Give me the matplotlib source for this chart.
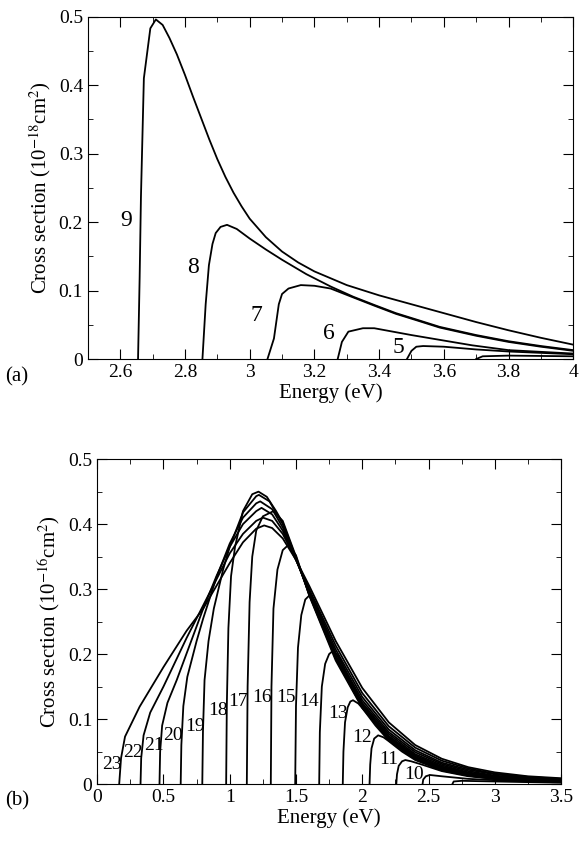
import matplotlib
matplotlib.use("Agg")
import matplotlib.pyplot as plt
from matplotlib.ticker import MultipleLocator

plt.rcParams['font.family'] = ['Liberation Serif', 'DejaVu Serif']
plt.rcParams['mathtext.fontset'] = 'stix'

# panel (a): transitions 9..4, points (energy, cross section)
a_curves = {
    '9': [(2.655, 0), (2.66, 0.12), (2.664, 0.237), (2.673, 0.41), (2.693, 0.483), (2.71, 0.496), (2.731, 0.488),
          (2.752, 0.469), (2.775, 0.445), (2.8, 0.415), (2.825, 0.383), (2.85, 0.352), (2.875, 0.321), (2.9, 0.292),
          (2.925, 0.266), (2.95, 0.243), (2.975, 0.223), (3.0, 0.205), (3.05, 0.178), (3.1, 0.157), (3.15, 0.141),
          (3.2, 0.128), (3.3, 0.108), (3.4, 0.093), (3.5, 0.08), (3.6, 0.067), (3.7, 0.054), (3.8, 0.042),
          (3.9, 0.031), (4.0, 0.021)],
    '8': [(2.854, 0), (2.864, 0.08), (2.874, 0.137), (2.885, 0.168), (2.895, 0.184), (2.91, 0.193), (2.93, 0.196),
          (2.96, 0.19), (3.0, 0.176), (3.05, 0.16), (3.1, 0.145), (3.175, 0.124), (3.25, 0.106), (3.32, 0.091),
          (3.385, 0.079), (3.452, 0.067), (3.52, 0.057), (3.587, 0.047), (3.7, 0.035), (3.8, 0.026), (3.9, 0.019), (4.0, 0.013)],
    '7': [(3.055, 0), (3.075, 0.03), (3.09, 0.08), (3.1, 0.095), (3.12, 0.103), (3.158, 0.108), (3.2, 0.107), (3.25, 0.103),
          (3.32, 0.09), (3.385, 0.078), (3.452, 0.066), (3.52, 0.056), (3.587, 0.046), (3.7, 0.034), (3.8, 0.025), (3.9, 0.018), (4.0, 0.012)],
    '6': [(3.272, 0), (3.285, 0.025), (3.305, 0.04), (3.35, 0.045), (3.385, 0.045), (3.5, 0.035), (3.6, 0.027), (3.688, 0.02),
          (3.8, 0.013), (4.0, 0.008)],
    '5': [(3.486, 0), (3.5, 0.012), (3.515, 0.018), (3.536, 0.019), (3.6, 0.018), (3.7, 0.014), (3.8, 0.011), (4.0, 0.007)],
    '4': [(3.70, 0), (3.72, 0.004), (3.8, 0.005), (4.0, 0.004)],
}
a_labels = {'9': (2.618, 0.203), '8': (2.824, 0.134), '7': (3.02, 0.063), '6': (3.245, 0.038), '5': (3.46, 0.017)}

# panel (b): transitions 23..9
tail_x = [1.5, 1.6, 1.8, 2.0, 2.2, 2.4, 2.6, 2.8, 3.0, 3.25, 3.5]
b_rise = {
    '23': [(0.166, 0), (0.18, 0.04), (0.21, 0.073), (0.32, 0.119), (0.5, 0.18), (0.675, 0.236), (0.8, 0.27), (0.9, 0.305),
           (1.0, 0.34), (1.1, 0.372), (1.2, 0.393), (1.26, 0.398), (1.32, 0.394), (1.4, 0.378)],
    '22': [(0.327, 0), (0.332, 0.04), (0.35, 0.075), (0.4, 0.11), (0.5, 0.15), (0.675, 0.225), (0.8, 0.275), (0.9, 0.315),
           (1.0, 0.355), (1.1, 0.385), (1.2, 0.405), (1.25, 0.41), (1.32, 0.405), (1.4, 0.385)],
    '21': [(0.47, 0), (0.475, 0.05), (0.49, 0.09), (0.53, 0.125), (0.6, 0.16), (0.7, 0.215), (0.8, 0.27), (0.9, 0.32),
           (1.0, 0.365), (1.1, 0.4), (1.2, 0.42), (1.24, 0.425), (1.32, 0.415), (1.4, 0.39)],
    '20': [(0.63, 0), (0.635, 0.06), (0.65, 0.12), (0.68, 0.165), (0.75, 0.22), (0.8, 0.255), (0.9, 0.318), (1.0, 0.37),
           (1.1, 0.41), (1.2, 0.432), (1.23, 0.435), (1.32, 0.423), (1.4, 0.395)],
    '19': [(0.793, 0), (0.798, 0.08), (0.81, 0.16), (0.84, 0.22), (0.88, 0.27), (0.95, 0.33), (1.0, 0.365), (1.1, 0.418),
           (1.2, 0.443), (1.22, 0.445), (1.3, 0.435), (1.4, 0.4)],
    '18': [(0.973, 0), (0.978, 0.12), (0.99, 0.24), (1.01, 0.32), (1.04, 0.365), (1.1, 0.42), (1.17, 0.446), (1.217, 0.45),
           (1.28, 0.442), (1.35, 0.42), (1.4, 0.402)],
    '17': [(1.129, 0), (1.135, 0.15), (1.15, 0.28), (1.17, 0.35), (1.2, 0.39), (1.25, 0.412), (1.33, 0.42), (1.4, 0.405)],
    '16': [(1.31, 0), (1.315, 0.15), (1.33, 0.27), (1.36, 0.33), (1.4, 0.36), (1.443, 0.368)],
}
b_tail = {
    '23': [0.345, 0.305, 0.22, 0.148, 0.095, 0.06, 0.039, 0.026, 0.018, 0.012, 0.009],
    '22': [0.345, 0.3, 0.213, 0.14, 0.089, 0.056, 0.036, 0.024, 0.016, 0.011, 0.008],
    '21': [0.345, 0.297, 0.207, 0.134, 0.084, 0.052, 0.033, 0.022, 0.015, 0.01, 0.007],
    '20': [0.346, 0.295, 0.202, 0.129, 0.08, 0.049, 0.031, 0.02, 0.013, 0.009, 0.006],
    '19': [0.347, 0.293, 0.198, 0.125, 0.077, 0.046, 0.029, 0.018, 0.012, 0.008, 0.006],
    '18': [0.348, 0.292, 0.195, 0.122, 0.074, 0.044, 0.027, 0.017, 0.011, 0.008, 0.005],
    '17': [0.35, 0.291, 0.193, 0.12, 0.072, 0.042, 0.026, 0.016, 0.011, 0.007, 0.005],
    '16': [0.352, 0.29, 0.19, 0.117, 0.07, 0.041, 0.025, 0.015, 0.01, 0.007, 0.005],
}
b_other = {
    '15': [(1.494, 0), (1.5, 0.12), (1.515, 0.21), (1.54, 0.26), (1.57, 0.284), (1.6, 0.29), (1.65, 0.278), (1.7, 0.25),
           (1.8, 0.193), (2.0, 0.118), (2.2, 0.069), (2.4, 0.04), (2.6, 0.024), (2.8, 0.015), (3.0, 0.01), (3.25, 0.006), (3.5, 0.004)],
    '14': [(1.675, 0), (1.68, 0.08), (1.695, 0.15), (1.72, 0.185), (1.75, 0.2), (1.778, 0.205), (1.82, 0.197), (1.9, 0.163),
           (2.0, 0.122), (2.2, 0.068), (2.4, 0.039), (2.6, 0.023), (2.8, 0.014), (3.0, 0.009), (3.25, 0.006), (3.5, 0.004)],
    '13': [(1.853, 0), (1.858, 0.05), (1.87, 0.095), (1.89, 0.118), (1.91, 0.127), (1.93, 0.129), (1.97, 0.124), (2.0, 0.117),
           (2.1, 0.09), (2.2, 0.067), (2.4, 0.038), (2.6, 0.022), (2.8, 0.013), (3.0, 0.008), (3.25, 0.005), (3.5, 0.004)],
    '12': [(2.055, 0), (2.06, 0.03), (2.07, 0.055), (2.09, 0.07), (2.12, 0.075), (2.16, 0.072), (2.2, 0.066), (2.3, 0.05),
           (2.4, 0.037), (2.6, 0.021), (2.8, 0.013), (3.0, 0.008), (3.25, 0.005), (3.5, 0.003)],
    '11': [(2.257, 0), (2.262, 0.015), (2.275, 0.028), (2.3, 0.035), (2.325, 0.037), (2.37, 0.035), (2.45, 0.03), (2.6, 0.02),
           (2.8, 0.012), (3.0, 0.008), (3.25, 0.005), (3.5, 0.003)],
    '10': [(2.455, 0), (2.46, 0.007), (2.48, 0.012), (2.51, 0.014), (2.6, 0.012), (2.8, 0.008), (3.0, 0.006), (3.25, 0.004), (3.5, 0.003)],
    '9': [(2.68, 0), (2.69, 0.004), (2.75, 0.005), (3.0, 0.004), (3.5, 0.002)],
}
b_labels = {'23': (0.115, 0.03), '22': (0.27, 0.048), '21': (0.43, 0.06), '20': (0.57, 0.075), '19': (0.74, 0.088),
            '18': (0.91, 0.113), '17': (1.066, 0.127), '16': (1.247, 0.133), '15': (1.423, 0.133), '14': (1.6, 0.127),
            '13': (1.82, 0.109), '12': (2.0, 0.071), '11': (2.2, 0.038), '10': (2.39, 0.015)}

fmt = plt.FuncFormatter(lambda v, p: '0' if abs(v) < 1e-9 else f'{v:g}')


def style(ax):
    ax.tick_params(which='both', direction='in', top=True, right=True, labelsize=14)
    ax.tick_params(which='major', length=7)
    ax.tick_params(which='minor', length=3.5)
    ax.xaxis.set_major_formatter(fmt)
    ax.yaxis.set_major_formatter(fmt)
    ax.yaxis.set_major_locator(MultipleLocator(0.1))
    ax.yaxis.set_minor_locator(MultipleLocator(0.05))


fig = plt.figure(figsize=(5.82, 8.44), dpi=100)

ax1 = fig.add_axes([0.151, 0.5746, 0.834, 0.4056])
for k, pts in a_curves.items():
    ax1.plot([p[0] for p in pts], [p[1] for p in pts], color='black', lw=1.3)
for k, (x, y) in a_labels.items():
    ax1.text(x, y, k, fontsize=17, ha='center', va='center')
ax1.set_xlim(2.5, 4)
ax1.set_ylim(0, 0.5)
ax1.xaxis.set_major_locator(MultipleLocator(0.2))
ax1.xaxis.set_minor_locator(MultipleLocator(0.1))
style(ax1)
ax1.set_xticks([2.6, 2.8, 3.0, 3.2, 3.4, 3.6, 3.8, 4.0])
ax1.set_xlabel('Energy (eV)', fontsize=15, labelpad=2)
ax1.set_ylabel('Cross section (10$^{-18}$cm$^{2}$)', fontsize=15)
fig.text(0.008, 0.553, '(a)', fontsize=15, va='center')

ax2 = fig.add_axes([0.167, 0.071, 0.797, 0.385])
for k, pts in b_rise.items():
    xs = [p[0] for p in pts] + tail_x
    ys = [p[1] for p in pts] + b_tail[k]
    ax2.plot(xs, ys, color='black', lw=1.3)
for k, pts in b_other.items():
    ax2.plot([p[0] for p in pts], [p[1] for p in pts], color='black', lw=1.3)
for k, (x, y) in b_labels.items():
    ax2.text(x, y, k, fontsize=14, ha='center', va='center')
ax2.set_xlim(0, 3.5)
ax2.set_ylim(0, 0.5)
ax2.xaxis.set_major_locator(MultipleLocator(0.5))
ax2.xaxis.set_minor_locator(MultipleLocator(0.25))
style(ax2)
ax2.set_xlabel('Energy (eV)', fontsize=15, labelpad=2)
ax2.set_ylabel('Cross section (10$^{-16}$cm$^{2}$)', fontsize=15)
fig.text(0.008, 0.051, '(b)', fontsize=15, va='center')

fig.savefig('out.png', dpi=100)
